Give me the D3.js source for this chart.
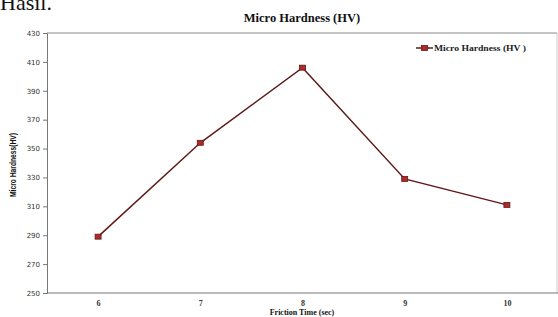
<!DOCTYPE html>
<html><head><meta charset="utf-8">
<script src="https://cdn.jsdelivr.net/npm/d3@7"></script>
<style>body{margin:0;background:#fff}svg{display:block}</style>
</head><body>
<svg id="c" width="558" height="317"></svg>
<script>
const categories = [6, 7, 8, 9, 10];
const hardness = [289, 354, 406, 329, 311];
const yTicks = [250, 270, 290, 310, 330, 350, 370, 390, 410, 430];
const seriesName = "Micro Hardness (HV )";
const titleText = "Micro Hardness (HV)";
const xTitle = "Friction Time (sec)";
const yTitle = "Micro Hardness(HV)";

const svg = d3.select("#c");
const m = {l: 47, r: 557, t: 33, b: 293};
const x = d3.scaleLinear().domain([5.5, 10.5]).range([m.l, 558]);
const y = d3.scaleLinear().domain([250, 430]).range([m.b, m.t]);

// partial heading text at the top edge (cut off in the reference too)
svg.append("text").attr("x", 0).attr("y", 10)
  .attr("font-family", "Liberation Serif").attr("font-size", 22).attr("fill", "#111")
  .text("Hasil.");

// frame
svg.append("line").attr("x1", m.l).attr("x2", m.r).attr("y1", m.t).attr("y2", m.t).attr("stroke", "#888");
svg.append("line").attr("x1", m.r).attr("x2", m.r).attr("y1", m.t).attr("y2", m.b).attr("stroke", "#ccc");

// y axis
const ya = svg.append("g").attr("transform", `translate(${m.l},0)`)
  .call(d3.axisLeft(y).tickValues(yTicks).tickFormat(d3.format("d")).tickSize(4).tickPadding(3));
ya.select(".domain").attr("stroke", "#777");
ya.selectAll(".tick line").attr("stroke", "#777");
ya.selectAll("text").attr("font-family", "DejaVu Sans").attr("font-size", 7).attr("fill", "#333");

// x axis
const xa = svg.append("g").attr("transform", `translate(0,${m.b})`)
  .call(d3.axisBottom(x).tickValues(categories).tickFormat(d3.format("d")).tickSize(0).tickPadding(7).tickSizeOuter(0));
xa.select(".domain").attr("stroke", "#777").attr("d", `M${m.l},0H558`);
xa.selectAll("text").attr("font-family", "Liberation Serif").attr("font-size", 8).attr("font-weight", "bold").attr("fill", "#333");

// titles
svg.append("text").attr("x", 302).attr("y", 22).attr("text-anchor", "middle")
  .attr("font-family", "Liberation Serif").attr("font-weight", "bold").attr("font-size", 12.5).attr("fill", "#111")
  .text(titleText);
svg.append("text").attr("x", 302).attr("y", 315).attr("text-anchor", "middle")
  .attr("font-family", "Liberation Serif").attr("font-weight", "bold").attr("font-size", 8).attr("fill", "#111")
  .text(xTitle);
svg.append("text").attr("transform", "translate(16,165) rotate(-90)").attr("text-anchor", "middle")
  .attr("font-family", "Liberation Sans Narrow, Liberation Sans").attr("font-size", 8.5).attr("font-weight", "bold").attr("fill", "#111")
  .attr("textLength", 64).attr("lengthAdjust", "spacingAndGlyphs")
  .text(yTitle);

// line
const data = categories.map((c, i) => ({x: c, y: hardness[i]}));
svg.append("path").datum(data)
  .attr("fill", "none").attr("stroke", "#5e1a1a").attr("stroke-width", 1.5)
  .attr("d", d3.line().x(d => x(d.x)).y(d => y(d.y)));
svg.selectAll("rect.pt").data(data).join("rect").attr("class", "pt")
  .attr("x", d => x(d.x) - 3).attr("y", d => y(d.y) - 2.5).attr("width", 6).attr("height", 5)
  .attr("fill", "#b02a2a").attr("stroke", "#5e1a1a").attr("stroke-width", 0.8);

// legend
const lg = svg.append("g").attr("transform", "translate(416,48)");
lg.append("line").attr("x1", 0).attr("x2", 17).attr("stroke", "#5e1a1a").attr("stroke-width", 1.5);
lg.append("rect").attr("x", 5.5).attr("y", -2.5).attr("width", 6).attr("height", 5)
  .attr("fill", "#b02a2a").attr("stroke", "#5e1a1a").attr("stroke-width", 0.8);
lg.append("text").attr("x", 18).attr("y", 3).attr("font-family", "Liberation Serif").attr("font-size", 8.5)
  .attr("font-weight", "bold").attr("fill", "#222")
  .attr("textLength", 92).attr("lengthAdjust", "spacingAndGlyphs")
  .text(seriesName);
</script>
</body></html>
